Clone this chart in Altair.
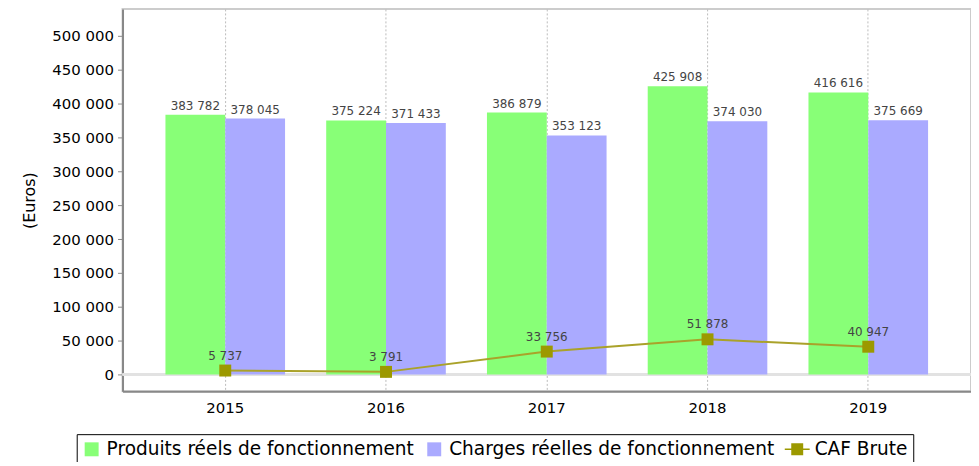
import altair as alt
import pandas as pd

years = ["2015", "2016", "2017", "2018", "2019"]
produits = [383782, 375224, 386879, 425908, 416616]
charges = [378045, 371433, 353123, 374030, 375669]
caf = [5737, 3791, 33756, 51878, 40947]
series = ["Produits réels de fonctionnement", "Charges réelles de fonctionnement", "CAF Brute"]
colors = ["#88ff77", "#aaaaff", "#9c9900"]
y_ticks = [0, 50000, 100000, 150000, 200000, 250000, 300000, 350000, 400000, 450000, 500000]


def fmt(v):
    return f"{v:,}".replace(",", " ")


bar_rows = []
for i, y in enumerate(years):
    bar_rows.append({"year": y, "serie": series[0], "value": produits[i], "label": fmt(produits[i])})
    bar_rows.append({"year": y, "serie": series[1], "value": charges[i], "label": fmt(charges[i])})
bars_df = pd.DataFrame(bar_rows)
caf_df = pd.DataFrame({"year": years, "serie": series[2], "value": caf, "label": [fmt(v) for v in caf]})

square_path = "M-0.7,-0.7 L0.7,-0.7 L0.7,0.7 L-0.7,0.7 Z"
line_path = ("M-1.5,-0.08 L1.0,-0.08 L1.0,0.08 L-1.5,0.08 Z "
             "M-0.85,-0.6 L0.35,-0.6 L0.35,0.6 L-0.85,0.6 Z")

x_enc = alt.X("year:N", title=None, sort=years,
              scale=alt.Scale(paddingInner=0.256, paddingOuter=0.267),
              axis=alt.Axis(labelAngle=0, labelFontSize=15, labelColor="#000", labelFont="DejaVu Sans",
                            ticks=False, labelPadding=9, domainColor="#888", domainWidth=2,
                            grid=True, gridDash=[2, 2], gridColor="#bbb", bandPosition=0.5))
y_scale = alt.Scale(domain=[-25000, 540000], nice=False, zero=False)
y_axis = alt.Axis(values=y_ticks, labelExpr="replace(format(datum.value, ',d'), regexp(',', 'g'), ' ')",
                  labelOverlap=False, tickCount=11,
                  labelFontSize=15, labelColor="#000", labelFont="DejaVu Sans", tickColor="#888",
                  tickSize=5, labelPadding=4, domainColor="#888", domainWidth=2, grid=False,
                  titleFontSize=16, titleFontWeight="normal", titleColor="#000",
                  titleFont="DejaVu Sans", titlePadding=14)
color_scale = alt.Scale(domain=series, range=colors)

zero_rule = alt.Chart(caf_df).mark_rule(color="#e2e2e2", strokeWidth=2).encode(
    y=alt.Y(datum=0, type="quantitative", scale=y_scale, axis=y_axis, title="(Euros)")
)

bars = alt.Chart(bars_df).mark_bar().encode(
    x=x_enc,
    xOffset=alt.XOffset("serie:N", sort=series[:2], scale=alt.Scale(paddingInner=0, paddingOuter=0)),
    y=alt.Y("value:Q", scale=y_scale, title="(Euros)", axis=y_axis),
    color=alt.Color("serie:N", scale=color_scale, legend=alt.Legend(title=None)),
)

bar_text = alt.Chart(bars_df).mark_text(dy=-9, fontSize=12, color="#444", font="DejaVu Sans").encode(
    x=alt.X("year:N", sort=years),
    xOffset=alt.XOffset("serie:N", sort=series[:2]),
    y=alt.Y("value:Q", scale=y_scale, axis=y_axis, title="(Euros)"),
    text="label:N",
)

line = alt.Chart(caf_df).mark_line(color="#aaa22a", strokeWidth=2).encode(
    x=alt.X("year:N", sort=years), y=alt.Y("value:Q", scale=y_scale, axis=y_axis, title="(Euros)")
)
pts = alt.Chart(caf_df).mark_square(size=144, opacity=1).encode(
    x=alt.X("year:N", sort=years), y=alt.Y("value:Q", scale=y_scale, axis=y_axis, title="(Euros)"),
    color=alt.Color("serie:N", scale=color_scale, legend=alt.Legend(title=None)),
)
caf_text = alt.Chart(caf_df).mark_text(dy=-15, fontSize=12, color="#444", font="DejaVu Sans").encode(
    x=alt.X("year:N", sort=years), y=alt.Y("value:Q", scale=y_scale, axis=y_axis, title="(Euros)"),
    text="label:N"
)

legend_layer = alt.Chart(bars_df).transform_filter("false").mark_point(filled=True, opacity=1).encode(
    x=alt.X("year:N", sort=years), y=alt.Y("value:Q", scale=y_scale, axis=y_axis, title="(Euros)"),
    color=alt.Color("serie:N", scale=color_scale, legend=alt.Legend(title=None)),
    shape=alt.Shape("serie:N", scale=alt.Scale(domain=series, range=[square_path, square_path, line_path]),
                    legend=alt.Legend(title=None)),
)

chart = alt.layer(zero_rule, bars, bar_text, line, pts, caf_text, legend_layer).properties(
    width=852, height=384,
    autosize=alt.AutoSizeParams(type="none"),
    padding={"left": 115, "top": 0, "right": 0, "bottom": 70},
).configure_view(stroke="#ccc", strokeWidth=2).configure_legend(
    orient="none", legendX=-46, legendY=427, direction="horizontal", columns=3,
    strokeColor="#000", strokeWidth=1, padding=5, labelFontSize=18.6, labelFont="DejaVu Sans",
    labelColor="#000", symbolSize=400, columnPadding=10, labelOffset=5, symbolStrokeWidth=0, labelLimit=500,
)

chart.save("out.html", embed_options={"renderer": "svg", "actions": False})
